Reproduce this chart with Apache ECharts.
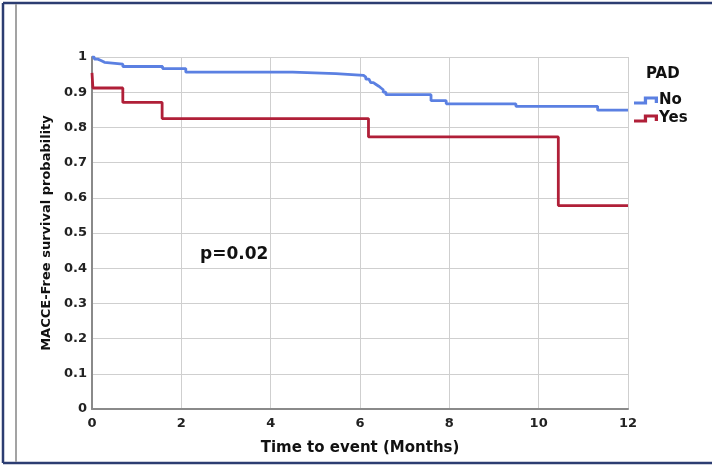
<!DOCTYPE html>
<html>
<head>
<meta charset="utf-8">
<script src="https://cdn.jsdelivr.net/npm/echarts@6/dist/echarts.min.js"></script>
<style>
  html, body { margin: 0; padding: 0; background: #ffffff; }
  #chart { width: 712px; height: 466px; }
</style>
</head>
<body>
<div id="chart"></div>
<script>
// Kaplan-Meier estimates: event times (months) and survival after each step
const noTimes = [0, 0.05, 0.13, 0.2, 0.28, 0.69, 1.58, 2.1, 4.49, 5.46, 6.08, 6.13, 6.2, 6.24, 6.3, 6.36, 6.42, 6.47, 6.52, 6.58, 7.59, 7.93, 9.49, 11.32, 12];
const noSurv  = [1, 0.994, 0.99, 0.985, 0.98, 0.973, 0.967, 0.957, 0.953, 0.948, 0.943, 0.937, 0.932, 0.927, 0.922, 0.917, 0.912, 0.907, 0.9, 0.893, 0.876, 0.867, 0.86, 0.849, 0.849];

const yesTimes = [0, 0.02, 0.69, 1.57, 6.19, 10.44, 12];
const yesSurv  = [0.955, 0.912, 0.871, 0.825, 0.773, 0.578, 0.578];

const groupNames = ['No', 'Yes'];
const legendTitle = 'PAD';
const pValueText = 'p=0.02';
const xTitle = 'Time to event (Months)';
const yTitle = 'MACCE-Free survival probability';

const pairs = (xs, ys) => xs.map((x, i) => [x, ys[i]]);

const BLUE = '#5b80e2';
const RED = '#b01f38';
const FONT = 'DejaVu Sans';
// small step-shaped legend glyph
const stepIcon = 'path://M0,5 L9,5 L9,0 L22,0 L22,6.5 L19,6.5 L19,3 L12,3 L12,8 L0,8 Z';

const chart = echarts.init(document.getElementById('chart'), null, { renderer: 'canvas' });

chart.setOption({
  animation: false,
  backgroundColor: '#ffffff',
  grid: { left: 92, right: 84, top: 57, bottom: 57, containLabel: false },
  title: {
    text: legendTitle,
    left: 641, top: 62,
    textStyle: { fontFamily: FONT, fontWeight: 'bold', fontSize: 15, color: '#111' }
  },
  legend: {
    orient: 'vertical',
    left: 629, top: 88,
    itemWidth: 24, itemHeight: 8,
    itemGap: 3,
    symbolKeepAspect: false,
    selectedMode: false,
    icon: stepIcon,
    itemStyle: { borderWidth: 0 },
    textStyle: { fontFamily: FONT, fontWeight: 'bold', fontSize: 15, color: '#111', padding: [0, 0, 0, -4] },
    data: groupNames
  },
  xAxis: {
    type: 'value',
    min: 0, max: 12, interval: 2,
    name: xTitle,
    nameLocation: 'middle',
    nameGap: 32,
    nameTextStyle: { fontFamily: FONT, fontWeight: 'bold', fontSize: 15, color: '#111' },
    axisLine: { show: true, onZero: false, lineStyle: { color: '#8a8a8a', width: 2 } },
    axisTick: { show: false },
    axisLabel: { fontFamily: FONT, fontWeight: 'bold', fontSize: 13, color: '#222', margin: 8 },
    splitLine: { show: true, showMinLine: true, showMaxLine: true, lineStyle: { color: '#cfcfcf', width: 1 } }
  },
  yAxis: {
    type: 'value',
    min: 0, max: 1, interval: 0.1,
    name: yTitle,
    nameLocation: 'middle',
    nameGap: 39,
    nameTextStyle: { fontFamily: FONT, fontWeight: 'bold', fontSize: 13, color: '#111' },
    axisLine: { show: true, onZero: false, lineStyle: { color: '#8a8a8a', width: 2 } },
    axisTick: { show: false },
    axisLabel: { fontFamily: FONT, fontWeight: 'bold', fontSize: 13, color: '#222', margin: 5 },
    splitLine: { show: true, showMinLine: true, showMaxLine: true, lineStyle: { color: '#cfcfcf', width: 1 } }
  },
  series: [
    {
      name: groupNames[0],
      type: 'line',
      step: 'end',
      showSymbol: false,
      data: pairs(noTimes, noSurv),
      itemStyle: { color: BLUE },
      lineStyle: { color: BLUE, width: 2.8 },
      z: 3
    },
    {
      name: groupNames[1],
      type: 'line',
      step: 'end',
      showSymbol: false,
      data: pairs(yesTimes, yesSurv),
      itemStyle: { color: RED },
      lineStyle: { color: RED, width: 2.8 },
      z: 4
    }
  ],
  graphic: [
    // outer frame
    { type: 'line', shape: { x1: 3, y1: 3, x2: 3, y2: 463 }, style: { stroke: '#2c3d72', lineWidth: 2.5 } },
    { type: 'line', shape: { x1: 3, y1: 3, x2: 712, y2: 3 }, style: { stroke: '#2c3d72', lineWidth: 2.5 } },
    { type: 'line', shape: { x1: 3, y1: 463, x2: 712, y2: 463 }, style: { stroke: '#2c3d72', lineWidth: 2.5 } },
    { type: 'line', shape: { x1: 16, y1: 4, x2: 16, y2: 462 }, style: { stroke: '#a3a3a3', lineWidth: 2 } },
    // log-rank p-value annotation
    {
      type: 'text', left: 200, top: 246,
      style: { text: pValueText, font: 'bold 17px "DejaVu Sans"', fill: '#111' }
    }
  ]
});
</script>
</body>
</html>
